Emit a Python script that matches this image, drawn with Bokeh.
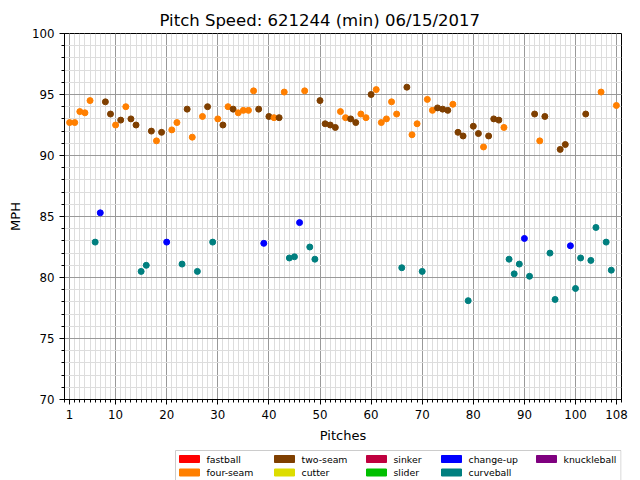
from bokeh.plotting import figure
from bokeh.layouts import column
from bokeh.models import FixedTicker, ColumnDataSource, Range1d
from bokeh.core.properties import value
from bokeh.embed import file_html
from bokeh.resources import INLINE

# ---- data ----
pitch_types = ["fastball", "four-seam", "two-seam", "cutter", "sinker",
               "slider", "change-up", "curveball", "knuckleball"]
type_colors = ["#ff0000", "#ff7f00", "#7f3f00", "#dddd00", "#bf003f",
               "#00bf00", "#0000ff", "#007f7f", "#7f007f"]

pitch_no = list(range(1, 109))
pitch_kind = [
    "four-seam", "four-seam", "four-seam", "four-seam", "four-seam", "curveball", "change-up", "two-seam", "two-seam", "four-seam",
    "two-seam", "four-seam", "two-seam", "two-seam", "curveball", "curveball", "two-seam", "four-seam", "two-seam", "change-up",
    "four-seam", "four-seam", "curveball", "two-seam", "four-seam", "curveball", "four-seam", "two-seam", "curveball", "four-seam",
    "two-seam", "four-seam", "two-seam", "four-seam", "four-seam", "four-seam", "four-seam", "two-seam", "change-up", "two-seam",
    "four-seam", "two-seam", "four-seam", "curveball", "curveball", "change-up", "four-seam", "curveball", "curveball", "two-seam",
    "two-seam", "two-seam", "two-seam", "four-seam", "four-seam", "two-seam", "two-seam", "four-seam", "four-seam", "two-seam",
    "four-seam", "four-seam", "four-seam", "four-seam", "four-seam", "curveball", "two-seam", "four-seam", "four-seam", "curveball",
    "four-seam", "four-seam", "two-seam", "two-seam", "two-seam", "four-seam", "two-seam", "two-seam", "curveball", "two-seam",
    "two-seam", "four-seam", "two-seam", "two-seam", "two-seam", "four-seam", "curveball", "curveball", "curveball", "change-up",
    "curveball", "two-seam", "four-seam", "two-seam", "curveball", "curveball", "two-seam", "two-seam", "change-up", "curveball",
    "curveball", "two-seam", "curveball", "curveball", "four-seam", "curveball", "curveball", "four-seam",
]
mph = [
    92.7, 92.7, 93.6, 93.5, 94.5, 82.9, 85.3, 94.4, 93.4, 92.5,
    92.9, 94.0, 93.0, 92.5, 80.5, 81.0, 92.0, 91.2, 91.9, 82.9,
    92.1, 92.7, 81.1, 93.8, 91.5, 80.5, 93.2, 94.0, 82.9, 93.0,
    92.5, 94.0, 93.8, 93.5, 93.7, 93.7, 95.3, 93.8, 82.8, 93.2,
    93.1, 93.1, 95.2, 81.6, 81.7, 84.5, 95.3, 82.5, 81.5, 94.5,
    92.6, 92.5, 92.3, 93.6, 93.1, 93.0, 92.7, 93.4, 93.1, 95.0,
    95.4, 92.7, 93.0, 94.4, 93.4, 80.8, 95.6, 91.7, 92.6, 80.5,
    94.6, 93.7, 93.9, 93.8, 93.7, 94.2, 91.9, 91.6, 78.1, 92.4,
    91.8, 90.7, 91.6, 93.0, 92.9, 92.3, 81.5, 80.3, 81.1, 83.2,
    80.1, 93.4, 91.2, 93.2, 82.0, 78.2, 90.5, 90.9, 82.6, 79.1,
    81.6, 93.4, 81.4, 84.1, 95.2, 82.9, 80.6, 94.1,
]
x_ticks = [1, 10, 20, 30, 40, 50, 60, 70, 80, 90, 100, 108]
y_ticks = [70, 75, 80, 85, 90, 95, 100]

color_of = dict(zip(pitch_types, type_colors))
pt_colors = [color_of[k] for k in pitch_kind]

FONT = "DejaVu Sans"
W = 628
BL, BR = 64, 7           # borders shared by both stacked figures
FRAME_W = W - BL - BR

p = figure(width=W, height=449, output_backend="svg",
           toolbar_location=None, x_range=Range1d(0, 109), y_range=Range1d(70, 100),
           min_border_left=BL, min_border_right=BR, min_border_top=33, min_border_bottom=50,
           title="Pitch Speed: 621244 (min) 06/15/2017")
p.background_fill_color = "white"
p.border_fill_color = "white"
p.outline_line_color = "black"
p.outline_line_width = 1

p.title.align = "left"
p.title.offset = 95
p.title.text_font = FONT
p.title.text_font_style = "normal"
p.title.text_font_size = "16.5px"
p.title.text_color = "black"
p.title.standoff = 8

p.xaxis.ticker = FixedTicker(ticks=x_ticks, minor_ticks=list(range(0, 110)))
p.yaxis.ticker = FixedTicker(ticks=y_ticks, minor_ticks=list(range(70, 101)))
p.xaxis.axis_label = "Pitches"
p.yaxis.axis_label = "MPH"
for ax in (p.xaxis, p.yaxis):
    ax.axis_label_text_font = FONT
    ax.axis_label_text_font_style = "normal"
    ax.axis_label_text_font_size = "13px"
    ax.axis_label_text_color = "black"
    ax.major_label_text_font = FONT
    ax.major_label_text_font_size = "11.8px"
    ax.major_label_text_color = "black"
    ax.axis_line_color = "black"
    ax.major_tick_line_color = "black"
    ax.minor_tick_line_color = "black"
    ax.major_tick_in = 0
    ax.major_tick_out = 5
    ax.minor_tick_in = 0
    ax.minor_tick_out = 3
    ax.major_label_standoff = 5
    ax.axis_label_standoff = 6

for g in (p.xgrid, p.ygrid):
    g.grid_line_color = "#999999"
    g.grid_line_width = 1
    g.minor_grid_line_color = "#dddddd"
    g.minor_grid_line_width = 1

src = ColumnDataSource(dict(x=pitch_no, y=mph, c=pt_colors))
p.scatter("x", "y", source=src, size=6, fill_color="c", line_color="c")

# ---- legend strip (pixel coordinates, 1 unit = 1 px) ----
LH = 31
p2 = figure(width=W, height=LH, output_backend="svg", toolbar_location=None,
            x_range=Range1d(0, FRAME_W), y_range=Range1d(0, LH),
            min_border_left=BL, min_border_right=BR, min_border_top=0, min_border_bottom=0)
p2.axis.visible = False
p2.grid.visible = False
p2.outline_line_color = None
p2.background_fill_color = "white"
p2.border_fill_color = "white"

col_left = [115, 210, 302, 377, 472]   # swatch left edge of each legend column
row_mid = [21.5, 8.0]                  # vertical centre of each legend row
sw_w, sw_h, gap = 20, 7, 7

# legend frame
p2.quad(left=col_left[0] - 4, right=FRAME_W - 0.5, top=LH - 1, bottom=-6,
        fill_color="white", line_color="#cccccc", line_width=1)

leg_x = [col_left[i // 2] for i in range(len(pitch_types))]
leg_y = [row_mid[i % 2] for i in range(len(pitch_types))]
leg = ColumnDataSource(dict(
    sx=[x + sw_w / 2 for x in leg_x], tx=[x + sw_w + gap for x in leg_x],
    y=leg_y, label=pitch_types, c=type_colors))
p2.rect(x="sx", y="y", width=sw_w, height=sw_h, source=leg, fill_color="c", line_color="c")
p2.text(x="tx", y="y", text="label", source=leg, text_font=value(FONT),
        text_font_size="9.33px", text_baseline="middle", text_align="left", text_color="black")

layout = column(p, p2, spacing=0)
open("out.html", "w").write(file_html(layout, INLINE))
